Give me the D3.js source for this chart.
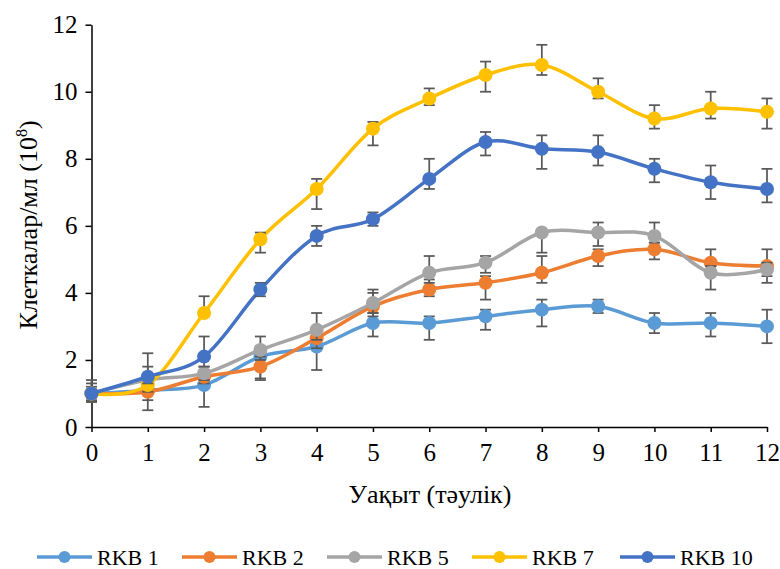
<!DOCTYPE html>
<html>
<head>
<meta charset="utf-8">
<script src="https://cdn.jsdelivr.net/npm/d3@7"></script>
<style>
  body { margin: 0; background: #fff; }
</style>
</head>
<body>
<svg id="chart" width="780" height="569"></svg>
<script>
// Day of cultivation
const days = [0, 1, 2, 3, 4, 5, 6, 7, 8, 9, 10, 11, 12];
const yTicks = [0, 2, 4, 6, 8, 10, 12];

const seriesNames = ["RKB 1", "RKB 2", "RKB 5", "RKB 7", "RKB 10"];
const seriesColors = ["#5B9BD5", "#ED7D31", "#A5A5A5", "#FFC000", "#4472C4"];

// Cell concentration, 10^8 cells/ml
const rkb1  = [1.0, 1.1, 1.25, 2.1, 2.4, 3.1, 3.1, 3.3, 3.5, 3.6, 3.1, 3.1, 3.0];
const rkb2  = [1.0, 1.05, 1.5, 1.8, 2.65, 3.6, 4.1, 4.3, 4.6, 5.1, 5.3, 4.9, 4.8];
const rkb5  = [1.0, 1.4, 1.6, 2.3, 2.9, 3.7, 4.6, 4.9, 5.8, 5.8, 5.7, 4.6, 4.7];
const rkb7  = [1.0, 1.25, 3.4, 5.6, 7.1, 8.9, 9.8, 10.5, 10.8, 10.0, 9.2, 9.5, 9.4];
const rkb10 = [1.0, 1.5, 2.1, 4.1, 5.7, 6.2, 7.4, 8.5, 8.3, 8.2, 7.7, 7.3, 7.1];

// Error bars as [plus, minus]
const rkb1Err  = [[0.4,0.25],[0.3,0.6],[0.3,0.65],[0.3,0.7],[0.3,0.7],[0.3,0.4],[0.2,0.5],[0.2,0.4],[0.3,0.5],[0.2,0.2],[0.3,0.3],[0.3,0.4],[0.5,0.5]];
const rkb2Err  = [[0.3,0.25],[0.3,0.25],[0.2,0.2],[0.3,0.35],[0.3,0.3],[0.4,0.3],[0.3,0.2],[0.2,0.5],[0.5,0.3],[0.2,0.3],[0.2,0.3],[0.4,0.3],[0.5,0.3]];
const rkb5Err  = [[0.2,0.2],[0.4,0.2],[0.2,0.2],[0.4,0.3],[0.5,0.3],[0.4,0.3],[0.5,0.3],[0.2,0.3],[0.0,0.6],[0.3,0.4],[0.4,0.2],[0.2,0.5],[0.2,0.4]];
const rkb7Err  = [[0.1,0.1],[0.3,0.2],[0.5,0.1],[0.2,0.4],[0.3,0.6],[0.2,0.5],[0.3,0.2],[0.4,0.5],[0.6,0.3],[0.4,0.2],[0.4,0.3],[0.5,0.3],[0.4,0.5]];
const rkb10Err = [[0.1,0.1],[0.7,0.2],[0.6,0.3],[0.2,0.2],[0.3,0.3],[0.2,0.2],[0.6,0.3],[0.3,0.4],[0.4,0.6],[0.5,0.4],[0.3,0.4],[0.5,0.5],[0.6,0.4]];

const seriesValues = [rkb1, rkb2, rkb5, rkb7, rkb10];
const seriesErrors = [rkb1Err, rkb2Err, rkb5Err, rkb7Err, rkb10Err];

const FONT = "'Liberation Serif', 'Times New Roman', Tinos, 'DejaVu Serif', serif";

const svg = d3.select("#chart");

const x = d3.scaleLinear().domain([0, 12]).range([91.5, 767]);
const y = d3.scaleLinear().domain([0, 12]).range([427, 24.7]);

// Axes
const xAxis = svg.append("g")
  .attr("transform", `translate(0,${y(0)})`)
  .call(d3.axisBottom(x).tickValues(days).tickFormat(d3.format("d")).tickSize(5).tickSizeOuter(0).tickPadding(11));
const yAxis = svg.append("g")
  .attr("transform", `translate(${x(0)},0)`)
  .call(d3.axisLeft(y).tickValues(yTicks).tickFormat(d3.format("d")).tickSize(6).tickSizeOuter(0).tickPadding(8));

[xAxis, yAxis].forEach(g => {
  g.attr("font-family", null).attr("font-size", null);
  g.select(".domain").attr("stroke", "#000").attr("stroke-width", 1.5);
  g.selectAll(".tick line").attr("stroke", "#000").attr("stroke-width", 1.5);
  g.selectAll(".tick text")
    .style("font-family", FONT)
    .style("font-size", "25px")
    .attr("fill", "#000");
});

// Axis titles
svg.append("text")
  .attr("x", 430).attr("y", 503)
  .attr("text-anchor", "middle")
  .style("font-family", FONT)
  .style("font-size", "26px")
  .text("Уақыт (тәулік)");

const yTitle = svg.append("text")
  .attr("transform", "translate(37,225) rotate(-90)")
  .attr("text-anchor", "middle")
  .style("font-family", FONT)
  .style("font-size", "26px");
yTitle.append("tspan").text("Клеткалар/мл (10");
yTitle.append("tspan").style("font-size", "16px").attr("dy", -10).text("8");
yTitle.append("tspan").attr("dy", 10).text(")");

// Smoothed series lines
const line = d3.line()
  .x((d, i) => x(days[i]))
  .y(d => y(d))
  .curve(d3.curveCatmullRom.alpha(0));

const plot = svg.append("g");

seriesValues.forEach((vals, s) => {
  const g = plot.append("g");
  g.append("path")
    .datum(vals)
    .attr("d", line)
    .attr("fill", "none")
    .attr("stroke", seriesColors[s])
    .attr("stroke-width", 3.5)
    .attr("stroke-linejoin", "round")
    .attr("stroke-linecap", "round");

  const errs = seriesErrors[s];
  const eb = g.append("g").attr("stroke", "#595959").attr("stroke-width", 1.75);
  vals.forEach((v, i) => {
    const cx = x(days[i]);
    const yTop = y(v + errs[i][0]);
    const yBot = y(v - errs[i][1]);
    eb.append("line").attr("x1", cx).attr("x2", cx).attr("y1", yTop).attr("y2", yBot);
    eb.append("line").attr("x1", cx - 5.5).attr("x2", cx + 5.5).attr("y1", yTop).attr("y2", yTop);
    eb.append("line").attr("x1", cx - 5.5).attr("x2", cx + 5.5).attr("y1", yBot).attr("y2", yBot);
  });

  g.selectAll("circle")
    .data(vals)
    .join("circle")
    .attr("cx", (d, i) => x(days[i]))
    .attr("cy", d => y(d))
    .attr("r", 7)
    .attr("fill", seriesColors[s]);
});

// Legend
const legendX = [37, 182, 327, 472, 620];
const legend = svg.append("g").attr("transform", "translate(0,557)");
seriesNames.forEach((name, s) => {
  const item = legend.append("g").attr("transform", `translate(${legendX[s]},0)`);
  item.append("line")
    .attr("x1", 0).attr("x2", 55).attr("y1", 0).attr("y2", 0)
    .attr("stroke", seriesColors[s]).attr("stroke-width", 3.5);
  item.append("circle").attr("cx", 27.5).attr("cy", 0).attr("r", 6).attr("fill", seriesColors[s]);
  item.append("text")
    .attr("x", 60).attr("y", 8)
    .style("font-family", FONT)
    .style("font-size", "22px")
    .text(name);
});
</script>
</body>
</html>
